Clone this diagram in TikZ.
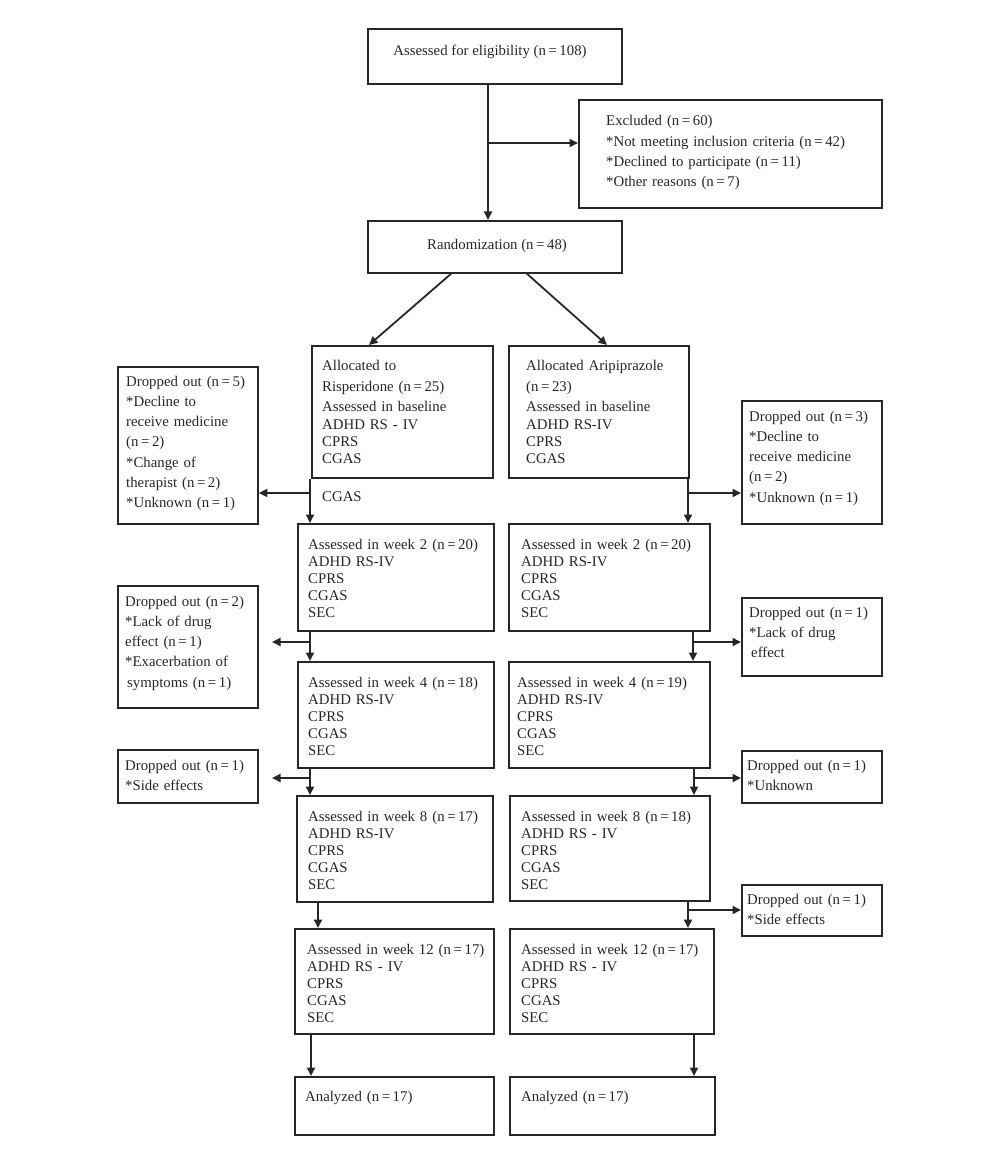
\documentclass[tikz,border=0pt]{standalone}
\usepackage{fontspec}
\setmainfont{Liberation Serif}
\usetikzlibrary{arrows.meta,calc}
\definecolor{linec}{HTML}{262626}
\definecolor{textc}{HTML}{262626}
\newcommand{\stx}{*}
\newcommand{\nq}[1]{(n\hspace{2.6pt}=\hspace{2.6pt}#1)}
\begin{document}
\begin{tikzpicture}[x=1pt,y=-1pt,
  boxst/.style={draw=linec,line width=1.8pt,inner sep=0pt,anchor=north west,rectangle},
  tx/.style={inner sep=0pt,anchor=base west,align=left,text width=320pt,text=textc,font=\fontsize{14.8}{17}\selectfont},
  txd/.style={tx,font=\fontsize{14.8}{20.3}\selectfont},
  txc/.style={inner sep=0pt,anchor=base,text=textc,font=\fontsize{14.8}{17}\selectfont},
  arr/.style={draw=linec,line width=1.8pt,-{Triangle[length=8.5pt,width=8pt]}}]
\useasboundingbox (0,0) rectangle (1000,1155);
% boxes
\node[boxst,minimum width=254pt,minimum height=55pt] (elig) at (367,28) {};
\node[boxst,minimum width=303pt,minimum height=108pt] (excl) at (578,99) {};
\node[boxst,minimum width=254pt,minimum height=52pt] (rand) at (367,220) {};
\node[boxst,minimum width=181pt,minimum height=132pt] (risA) at (311,345) {};
\node[boxst,minimum width=180pt,minimum height=132pt] (ariA) at (508,345) {};
\node[boxst,minimum width=140pt,minimum height=157pt] (dL1) at (117,366) {};
\node[boxst,minimum width=140pt,minimum height=123pt] (dR1) at (741,400) {};
\node[boxst,minimum width=196pt,minimum height=107pt] (w2L) at (297,523) {};
\node[boxst,minimum width=201pt,minimum height=107pt] (w2R) at (508,523) {};
\node[boxst,minimum width=140pt,minimum height=122pt] (dL2) at (117,585) {};
\node[boxst,minimum width=140pt,minimum height=78pt] (dR2) at (741,597) {};
\node[boxst,minimum width=196pt,minimum height=106pt] (w4L) at (297,661) {};
\node[boxst,minimum width=201pt,minimum height=106pt] (w4R) at (508,661) {};
\node[boxst,minimum width=140pt,minimum height=53pt] (dL3) at (117,749) {};
\node[boxst,minimum width=140pt,minimum height=52pt] (dR3) at (741,750) {};
\node[boxst,minimum width=196pt,minimum height=106pt] (w8L) at (296,795) {};
\node[boxst,minimum width=200pt,minimum height=105pt] (w8R) at (509,795) {};
\node[boxst,minimum width=140pt,minimum height=51pt] (dR4) at (741,884) {};
\node[boxst,minimum width=199pt,minimum height=105pt] (w12L) at (294,928) {};
\node[boxst,minimum width=204pt,minimum height=105pt] (w12R) at (509,928) {};
\node[boxst,minimum width=199pt,minimum height=58pt] (anL) at (294,1076) {};
\node[boxst,minimum width=205pt,minimum height=58pt] (anR) at (509,1076) {};
% texts
\node[txc] (elig-t) at (490,56) {Assessed for eligibility \nq{108}};
\node[txd] (excl-t) at (606,126) {Excluded \nq{60}\\\stx Not meeting inclusion criteria \nq{42}\\\stx Declined to participate \nq{11}\\\stx Other reasons \nq{7}};
\node[txc] (rand-t) at (497,250) {Randomization \nq{48}};
\node[tx] (risA-t) at (322,370) {Allocated to\\[4pt]Risperidone \nq{25}\\[3pt]Assessed in baseline\\[1pt]ADHD RS - IV\\CPRS\\CGAS};
\node[tx] (ariA-t) at (526,370) {Allocated Aripiprazole\\[4pt]\nq{23}\\[3pt]Assessed in baseline\\[1pt]ADHD RS-IV\\CPRS\\CGAS};
\node[tx] (cgas-t) at (322,501) {CGAS};
\node[txd] (dL1-t) at (126,386) {Dropped out \nq{5}\\\stx Decline to\\receive medicine\\\nq{2}\\\stx Change of\\therapist \nq{2}\\\stx Unknown \nq{1}};
\node[txd] (dR1-t) at (749,421) {Dropped out \nq{3}\\\stx Decline to\\receive medicine\\\nq{2}\\\stx Unknown \nq{1}};
\node[tx] (w2L-t) at (308,549) {Assessed in week 2 \nq{20}\\ADHD RS-IV\\CPRS\\CGAS\\SEC};
\node[tx] (w2R-t) at (521,549) {Assessed in week 2 \nq{20}\\ADHD RS-IV\\CPRS\\CGAS\\SEC};
\node[txd] (dL2-t) at (125,606) {Dropped out \nq{2}\\\stx Lack of drug\\effect \nq{1}\\\stx Exacerbation of\\\hspace*{2pt}symptoms \nq{1}};
\node[txd] (dR2-t) at (749,617) {Dropped out \nq{1}\\\stx Lack of drug\\\hspace*{2pt}effect};
\node[tx] (w4L-t) at (308,687) {Assessed in week 4 \nq{18}\\ADHD RS-IV\\CPRS\\CGAS\\SEC};
\node[tx] (w4R-t) at (517,687) {Assessed in week 4 \nq{19}\\ADHD RS-IV\\CPRS\\CGAS\\SEC};
\node[txd] (dL3-t) at (125,770) {Dropped out \nq{1}\\\stx Side effects};
\node[txd] (dR3-t) at (747,770) {Dropped out \nq{1}\\\stx Unknown};
\node[tx] (w8L-t) at (308,821) {Assessed in week 8 \nq{17}\\ADHD RS-IV\\CPRS\\CGAS\\SEC};
\node[tx] (w8R-t) at (521,821) {Assessed in week 8 \nq{18}\\ADHD RS - IV\\CPRS\\CGAS\\SEC};
\node[txd] (dR4-t) at (747,904) {Dropped out \nq{1}\\\stx Side effects};
\node[tx] (w12L-t) at (307,954) {Assessed in week 12 \nq{17}\\ADHD RS - IV\\CPRS\\CGAS\\SEC};
\node[tx] (w12R-t) at (521,954) {Assessed in week 12 \nq{17}\\ADHD RS - IV\\CPRS\\CGAS\\SEC};
\node[tx] (anL-t) at (305,1101) {Analyzed \nq{17}};
\node[tx] (anR-t) at (521,1101) {Analyzed \nq{17}};
% connector columns
\coordinate (xA) at (488,0);
\coordinate (L1) at (310,0);
\coordinate (L2) at (318,0);
\coordinate (L3) at (311,0);
\coordinate (R1) at (688,0);
\coordinate (R2) at (693,0);
\coordinate (R3) at (694,0);
\coordinate (tipL) at (272,0);
% top
\draw[arr] (xA |- elig.south) -- (xA |- rand.north);
\coordinate (b0) at (488,143);
\draw[arr] (b0) -- (b0 -| excl.west);
\draw[arr] ($(rand.south west)+(84,0)$) -- ($(risA.north west)+(58,0)$);
\draw[arr] ($(rand.south west)+(160,0)$) -- ($(ariA.north west)+(99,0)$);
% left column
\draw[arr] (L1 |- risA.south) -- (L1 |- w2L.north);
\coordinate (bL1) at (310,493);
\draw[arr] (bL1) -- (bL1 -| dL1.east);
\draw[arr] (L1 |- w2L.south) -- (L1 |- w4L.north);
\coordinate (bL2) at (310,642);
\draw[arr] (bL2) -- (bL2 -| tipL);
\draw[arr] (L1 |- w4L.south) -- (L1 |- w8L.north);
\coordinate (bL3) at (310,778);
\draw[arr] (bL3) -- (bL3 -| tipL);
\draw[arr] (L2 |- w8L.south) -- (L2 |- w12L.north);
\draw[arr] (L3 |- w12L.south) -- (L3 |- anL.north);
% right column
\draw[arr] (R1 |- ariA.south) -- (R1 |- w2R.north);
\coordinate (bR1) at (688,493);
\draw[arr] (bR1) -- (bR1 -| dR1.west);
\draw[arr] (R2 |- w2R.south) -- (R2 |- w4R.north);
\coordinate (bR2) at (693,642);
\draw[arr] (bR2) -- (bR2 -| dR2.west);
\draw[arr] (R3 |- w4R.south) -- (R3 |- w8R.north);
\coordinate (bR3) at (694,778);
\draw[arr] (bR3) -- (bR3 -| dR3.west);
\draw[arr] (R1 |- w8R.south) -- (R1 |- w12R.north);
\coordinate (bR4) at (688,910);
\draw[arr] (bR4) -- (bR4 -| dR4.west);
\draw[arr] (R3 |- w12R.south) -- (R3 |- anR.north);
\end{tikzpicture}
\end{document}
